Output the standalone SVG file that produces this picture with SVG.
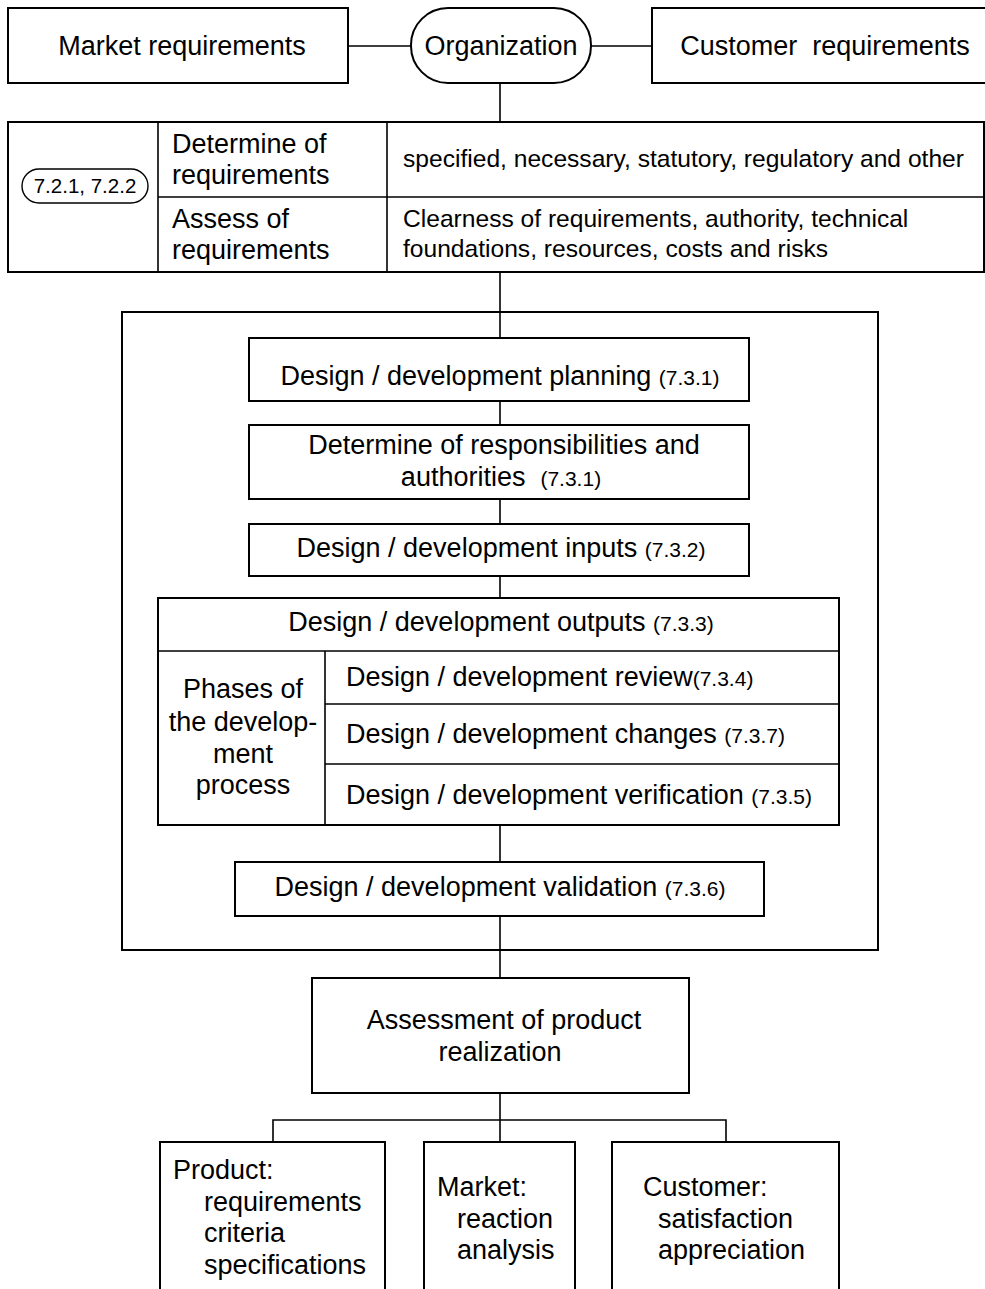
<svg xmlns="http://www.w3.org/2000/svg" width="985" height="1289" viewBox="0 0 985 1289">
<style>
  .box{fill:#fff;stroke:#000;stroke-width:2}
  .frame{fill:none;stroke:#000;stroke-width:2}
  .ln{fill:none;stroke:#000;stroke-width:1.6}
  text{font-family:"Liberation Sans",Arial,sans-serif;fill:#000}
  .t{font-size:27px}
  .d{font-size:24.6px}
  .s{font-size:21px}
  .p{font-size:20.5px}
  .m{text-anchor:middle}
</style>
<rect width="985" height="1289" fill="#fff"/>
<g id="connectors">
  <line class="ln" x1="348" y1="46" x2="411" y2="46"/>
  <line class="ln" x1="591" y1="46" x2="652" y2="46"/>
  <line class="ln" x1="500" y1="83" x2="500" y2="122"/>
  <line class="ln" x1="500" y1="272" x2="500" y2="338"/>
  <line class="ln" x1="500" y1="401" x2="500" y2="425"/>
  <line class="ln" x1="500" y1="499" x2="500" y2="524"/>
  <line class="ln" x1="500" y1="576" x2="500" y2="598"/>
  <line class="ln" x1="500" y1="825" x2="500" y2="862"/>
  <line class="ln" x1="500" y1="916" x2="500" y2="978"/>
  <line class="ln" x1="500" y1="1093" x2="500" y2="1142"/>
  <polyline class="ln" points="273,1142 273,1120 726,1120 726,1142"/>
</g>
<g id="outer">
  <rect class="frame" x="122" y="312" width="756" height="638"/>
</g>
<g id="market">
  <rect class="box" x="8" y="8" width="340" height="75"/>
  <text class="t m" x="182" y="55">Market requirements</text>
</g>
<g id="organization">
  <rect class="box" x="411" y="8" width="180" height="75" rx="37" ry="37"/>
  <text class="t m" x="501" y="55">Organization</text>
</g>
<g id="customer">
  <rect class="box" x="652" y="8" width="340" height="75"/>
  <text class="t m" x="825" y="55" xml:space="preserve">Customer  requirements</text>
</g>
<g id="requirements-table">
  <rect class="box" x="8" y="122" width="976" height="150"/>
  <line class="ln" x1="158" y1="122" x2="158" y2="272"/>
  <line class="ln" x1="387" y1="122" x2="387" y2="272"/>
  <line class="ln" x1="158" y1="197" x2="984" y2="197"/>
  <rect class="box" x="22" y="169" width="126" height="34" rx="17" ry="17" style="stroke-width:1.4"/>
  <text class="p m" x="85" y="193">7.2.1, 7.2.2</text>
  <text class="t" x="172" y="153">Determine of</text>
  <text class="t" x="172" y="184">requirements</text>
  <text class="t" x="172" y="228">Assess of</text>
  <text class="t" x="172" y="259">requirements</text>
  <text class="d" x="403" y="167">specified, necessary, statutory, regulatory and other</text>
  <text class="d" x="403" y="227">Clearness of requirements, authority, technical</text>
  <text class="d" x="403" y="257">foundations, resources, costs and risks</text>
</g>
<g id="planning">
  <rect class="box" x="249" y="338" width="500" height="63"/>
  <text class="t m" x="500" y="385">Design / development planning <tspan class="s">(7.3.1)</tspan></text>
</g>
<g id="responsibilities">
  <rect class="box" x="249" y="425" width="500" height="74"/>
  <text class="t m" x="504" y="454">Determine of responsibilities and</text>
  <text class="t m" x="501" y="486" xml:space="preserve">authorities  <tspan class="s">(7.3.1)</tspan></text>
</g>
<g id="inputs">
  <rect class="box" x="249" y="524" width="500" height="52"/>
  <text class="t m" x="501" y="557">Design / development inputs <tspan class="s">(7.3.2)</tspan></text>
</g>
<g id="outputs">
  <rect class="box" x="158" y="598" width="681" height="227"/>
  <line class="ln" x1="158" y1="651" x2="839" y2="651"/>
  <line class="ln" x1="325" y1="651" x2="325" y2="825"/>
  <line class="ln" x1="325" y1="704" x2="839" y2="704"/>
  <line class="ln" x1="325" y1="764" x2="839" y2="764"/>
  <text class="t m" x="501" y="631">Design / development outputs <tspan class="s">(7.3.3)</tspan></text>
  <text class="t m" x="243" y="698">Phases of</text>
  <text class="t m" x="243" y="731">the develop-</text>
  <text class="t m" x="243" y="763">ment</text>
  <text class="t m" x="243" y="794">process</text>
  <text class="t" x="346" y="686">Design / development review<tspan class="s">(7.3.4)</tspan></text>
  <text class="t" x="346" y="743">Design / development changes <tspan class="s">(7.3.7)</tspan></text>
  <text class="t" x="346" y="804">Design / development verification <tspan class="s">(7.3.5)</tspan></text>
</g>
<g id="validation">
  <rect class="box" x="235" y="862" width="529" height="54"/>
  <text class="t m" x="500" y="896">Design / development validation <tspan class="s">(7.3.6)</tspan></text>
</g>
<g id="assessment">
  <rect class="box" x="312" y="978" width="377" height="115"/>
  <text class="t m" x="504" y="1029">Assessment of product</text>
  <text class="t m" x="500" y="1061">realization</text>
</g>
<g id="product">
  <rect class="box" x="160" y="1142" width="225" height="160"/>
  <text class="t" x="173" y="1179">Product:</text>
  <text class="t" x="204" y="1211">requirements</text>
  <text class="t" x="204" y="1242">criteria</text>
  <text class="t" x="204" y="1274">specifications</text>
</g>
<g id="market-result">
  <rect class="box" x="424" y="1142" width="151" height="160"/>
  <text class="t" x="437" y="1196">Market:</text>
  <text class="t" x="457" y="1228">reaction</text>
  <text class="t" x="457" y="1259">analysis</text>
</g>
<g id="customer-result">
  <rect class="box" x="612" y="1142" width="227" height="160"/>
  <text class="t" x="643" y="1196">Customer:</text>
  <text class="t" x="658" y="1228">satisfaction</text>
  <text class="t" x="658" y="1259">appreciation</text>
</g>
</svg>
